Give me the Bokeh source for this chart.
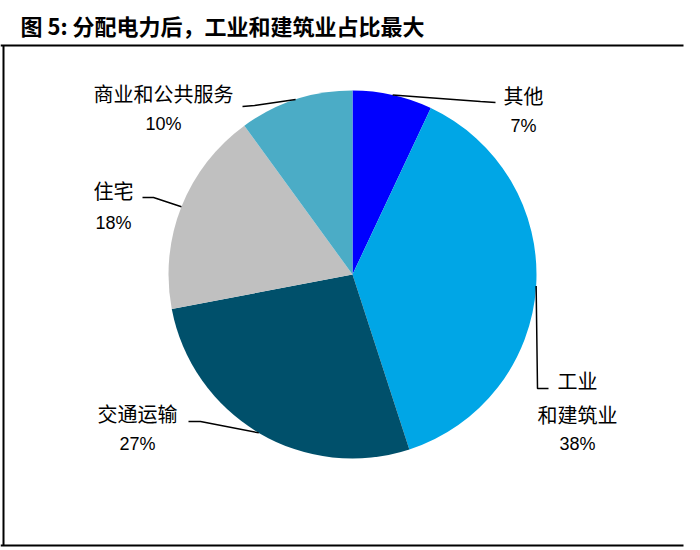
import numpy as np
from bokeh.plotting import figure
from bokeh.models import ColumnDataSource, Range1d
from bokeh.core.properties import value
from bokeh.embed import file_html
from bokeh.resources import INLINE

# data, clockwise from 12 o'clock
categories = ["其他", "工业和建筑业", "交通运输", "住宅", "商业和公共服务"]
shares = [7, 38, 27, 18, 10]
pct_labels = ["7%", "38%", "27%", "18%", "10%"]
title_text = "图 5: 分配电力后，工业和建筑业占比最大"

colors = ["#0000FF", "#00A6E6", "#00506B", "#C0C0C0", "#4BACC6"]

W, H = 690, 548


def sy(y):
    # pixel y (from top) -> data y (grows upward)
    return H - y


p = figure(width=W, height=H, x_range=Range1d(0, W), y_range=Range1d(0, H),
           output_backend="svg", toolbar_location=None, min_border=0)
p.axis.visible = False
p.grid.visible = False
p.outline_line_color = None
p.background_fill_color = "white"

# pie
cx, cy, r = 352, sy(274), 184
frac = np.array(shares, dtype=float) / sum(shares)
cum = np.concatenate([[0.0], np.cumsum(frac)])
start = np.pi / 2 - 2 * np.pi * cum[:-1]
end = np.pi / 2 - 2 * np.pi * cum[1:]
src = ColumnDataSource(dict(x=[cx] * len(shares), y=[cy] * len(shares),
                            start=start, end=end, color=colors))
p.wedge(x="x", y="y", radius=r, start_angle="start", end_angle="end",
        direction="clock", fill_color="color", line_color=None, source=src)

# leader lines: from slice middle on the rim to elbow, then to label
mid = np.pi / 2 - np.pi * (cum[:-1] + cum[1:])
elbows = [(480, 101), (537, 388), (200, 421), (153, 197), (254, 105)]
ends = [(495, 102), (548, 388), (188, 421), (142, 197), (242, 106)]
xs, ys = [], []
for m, (ex, ey), (tx, ty) in zip(mid, elbows, ends):
    xs.append([cx + r * np.cos(m), ex, tx])
    ys.append([cy + r * np.sin(m), sy(ey), sy(ty)])
p.multi_line(xs, ys, line_color="black", line_width=1.5)

# labels
name_pos = [(523, 95), (577, 397), (137, 413), (113, 190), (163, 93)]
pct_pos = [(523, 125), (577, 443), (137, 443), (113, 222), (163, 123)]
names = [c if c != "工业和建筑业" else "工业\n和建筑业" for c in categories]
p.text(x=[a for a, b in name_pos], y=[sy(b) for a, b in name_pos], text=names,
       text_font=value("Noto Sans CJK SC"), text_font_size="20px",
       text_align="center", text_baseline="middle", text_line_height=1.15,
       text_color="black")
p.text(x=[a for a, b in pct_pos], y=[sy(b) for a, b in pct_pos], text=pct_labels,
       text_font=value("Liberation Sans Narrow, Liberation Sans"), text_font_size="18px",
       text_align="center", text_baseline="middle", text_color="black")

# title and frame
p.text(x=[20], y=[sy(24)], text=[title_text], text_font=value("Noto Sans CJK SC"),
       text_font_style="bold", text_font_size="22px", text_align="left",
       text_baseline="middle", text_color="black")
p.line([0, 683], [sy(45), sy(45)], line_color="black", line_width=2)
p.line([3, 3], [sy(45), sy(545)], line_color="black", line_width=2)
p.line([0, 683], [sy(545), sy(545)], line_color="black", line_width=2)

open("out.html", "w").write(file_html(p, INLINE))
